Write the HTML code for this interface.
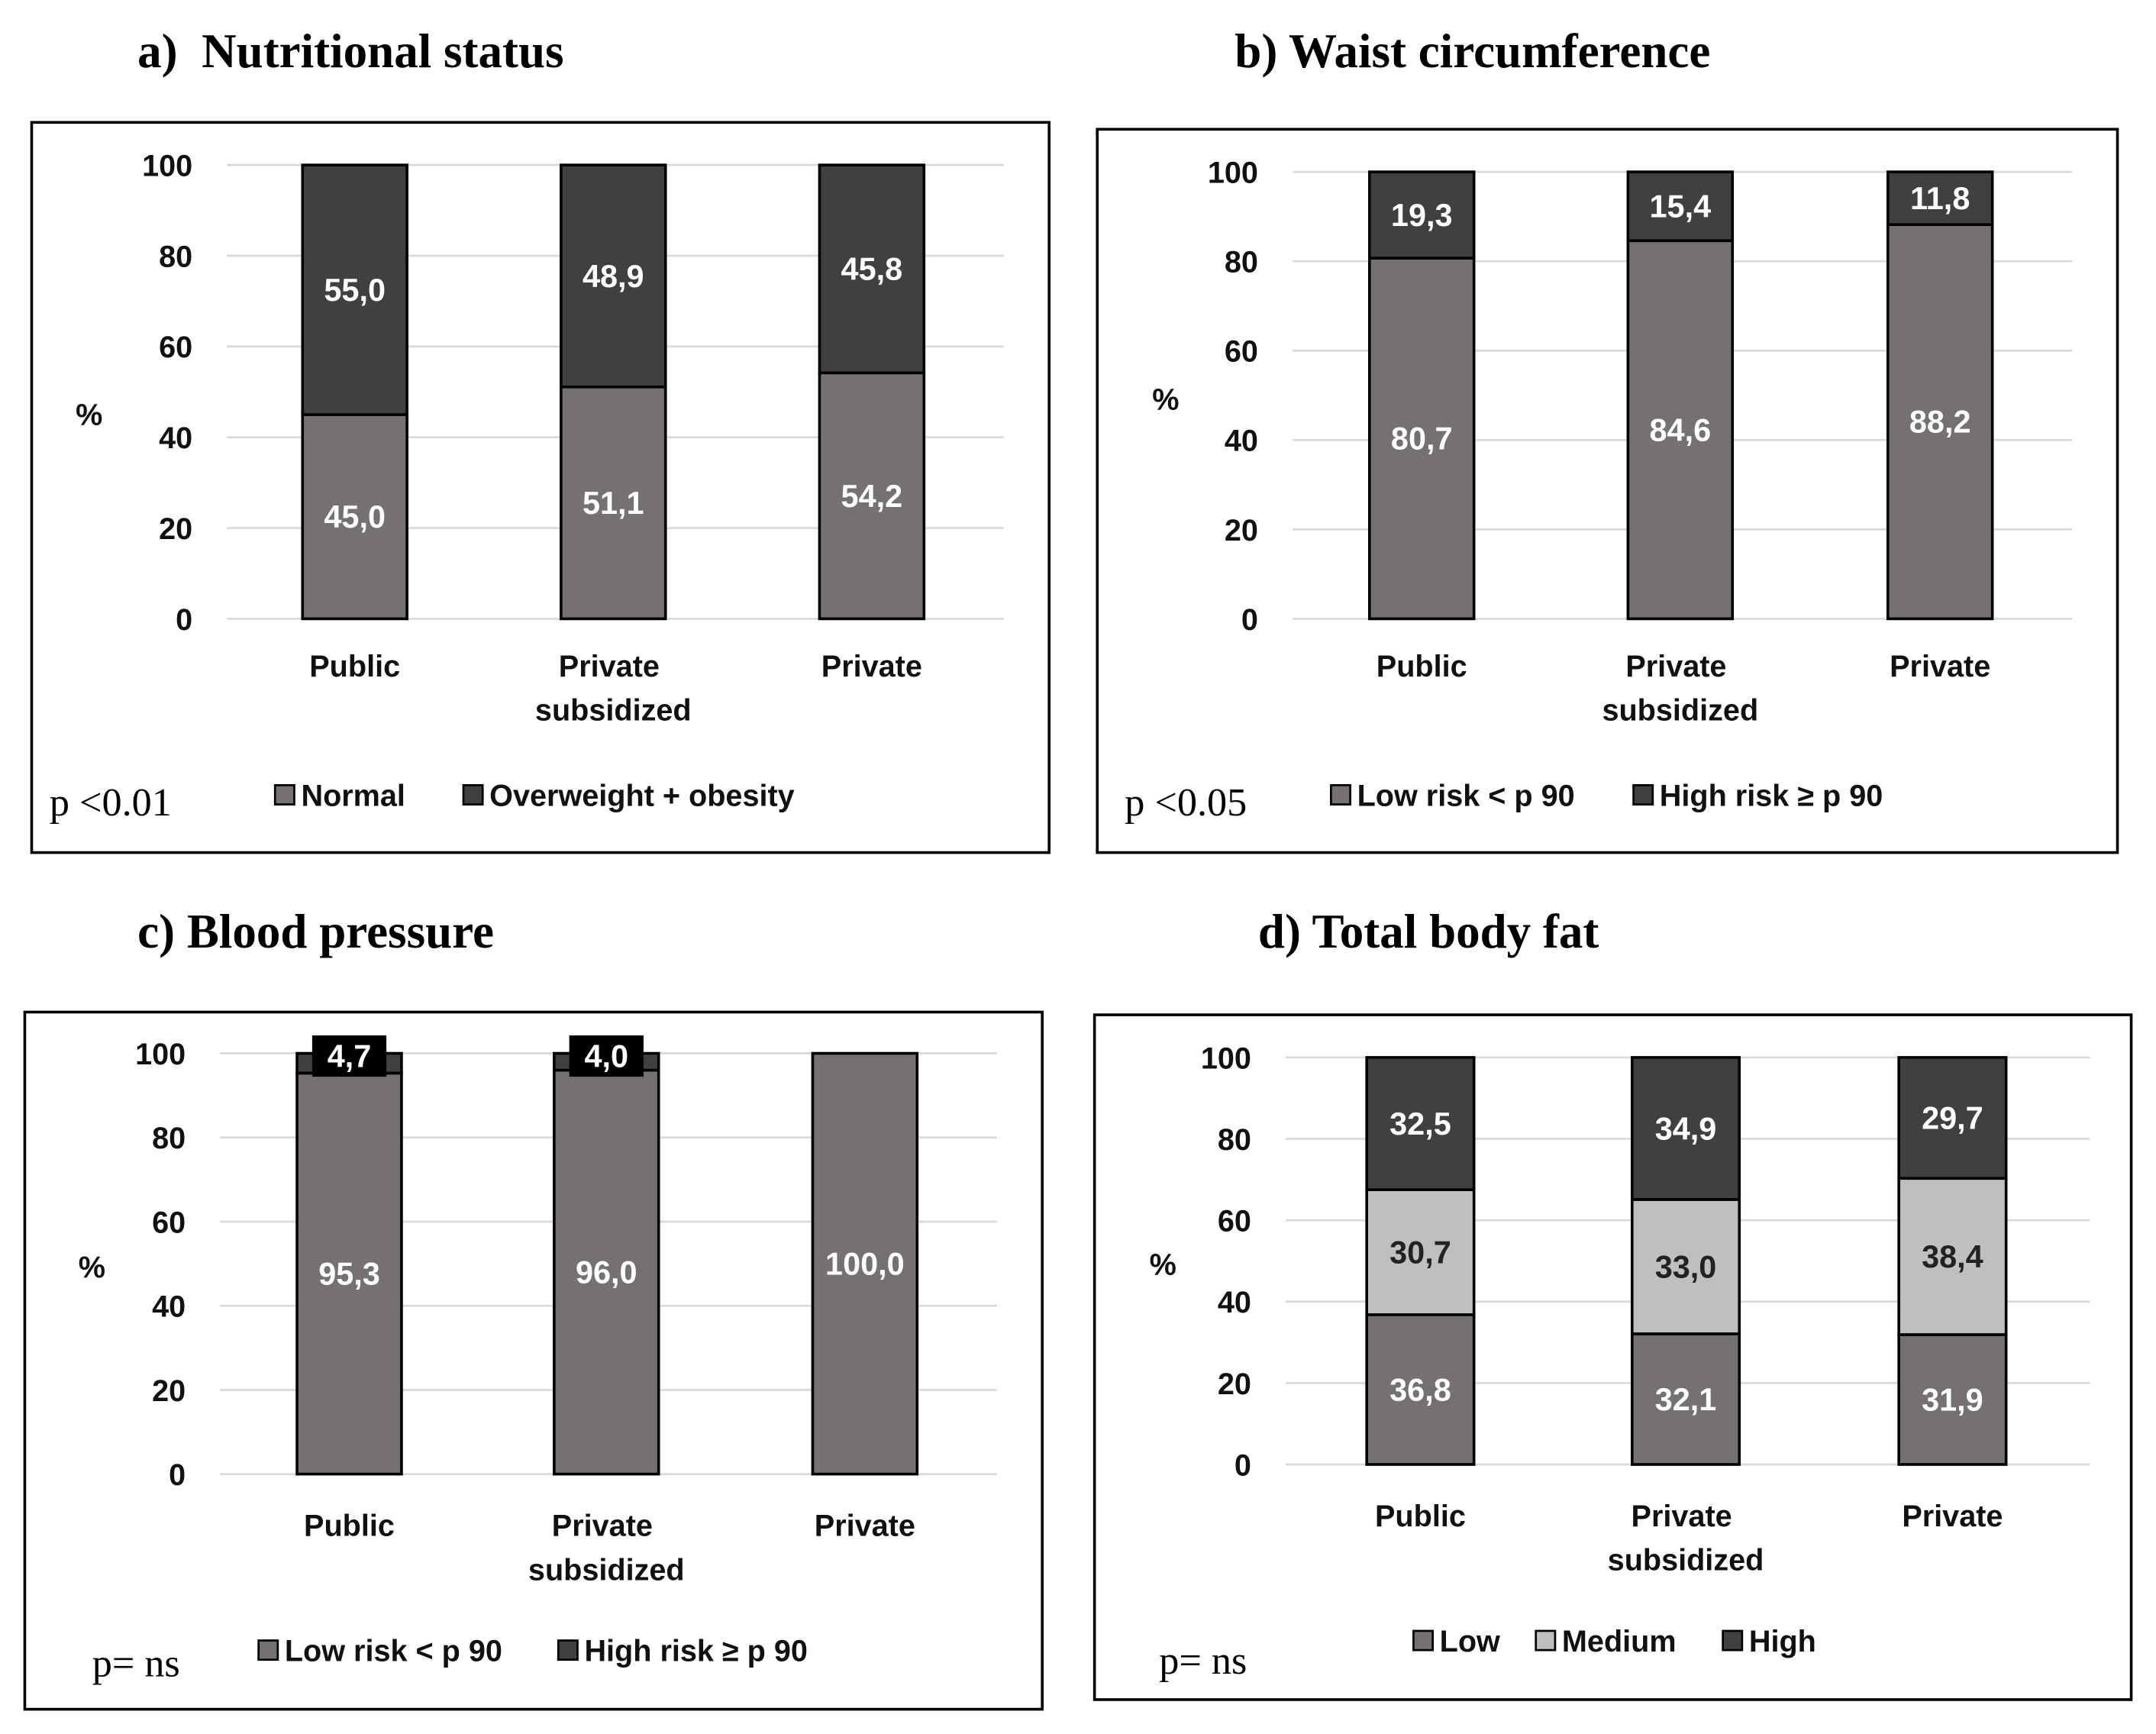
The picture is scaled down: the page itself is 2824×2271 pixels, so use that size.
<!DOCTYPE html>
<html><head><meta charset="utf-8"><style>
html,body{margin:0;padding:0;background:#fff}
svg{display:block}
.t{font-family:"Liberation Serif",serif;font-weight:bold;font-size:35px;fill:#000}
.s{font-family:"Liberation Sans",sans-serif;font-size:22px;font-weight:bold;fill:#111}
.v{font-family:"Liberation Sans",sans-serif;font-size:23px;fill:#fff;font-weight:bold}
.p{font-family:"Liberation Serif",serif;font-size:29px;fill:#000}
</style></head><body>
<svg id="c" width="2824" height="2271" viewBox="0 0 1568 1261">
<text class="t" x="100" y="49" xml:space="preserve">a)  Nutritional status</text>
<text class="t" x="898" y="49">b) Waist circumference</text>
<text class="t" x="100" y="689">c) Blood pressure</text>
<text class="t" x="915" y="689">d) Total body fat</text>
</svg>
<script>
const categories = ["Public", "Private subsidized", "Private"];
const ticks = [0, 20, 40, 60, 80, 100];
const aNormal = [45.0, 51.1, 54.2];
const aOver = [55.0, 48.9, 45.8];
const bLow = [80.7, 84.6, 88.2];
const bHigh = [19.3, 15.4, 11.8];
const cLow = [95.3, 96.0, 100.0];
const cHigh = [4.7, 4.0, 0];
const dLow = [36.8, 32.1, 31.9];
const dMed = [30.7, 33.0, 38.4];
const dHigh = [32.5, 34.9, 29.7];
const legA = ["Normal", "Overweight + obesity"];
const legB = ["Low risk < p 90", "High risk ≥ p 90"];
const legD = ["Low", "Medium", "High"];

const NS = "http://www.w3.org/2000/svg";
const svg = document.getElementById("c");
function mk(tag, at, txt){const e=document.createElementNS(NS,tag);for(const k in at)e.setAttribute(k,at[k]);if(txt!==undefined)e.textContent=txt;svg.appendChild(e);return e;}
const COL = {low:"#757171", med:"#bfbfbf", high:"#404040"};

function panel(cfg){
  const b=mk("rect",{x:cfg.box[0],y:cfg.box[1],width:cfg.box[2]-cfg.box[0],height:cfg.box[3]-cfg.box[1],fill:"none",stroke:"#000","stroke-width":2});
  
  
  const y=v=>cfg.y0-(cfg.y0-cfg.y100)*v/100;
  ticks.forEach(t=>{
    const l=mk("line",{x1:cfg.gx[0],x2:cfg.gx[1],y1:y(t),y2:y(t),stroke:"#d9d9d9","stroke-width":1.5});
    
    
    const tx=mk("text",{class:"s",x:cfg.gx[0]-25,y:y(t)+8,"text-anchor":"end"},String(t));
    
    
  });
  const pc=mk("text",{class:"s",x:cfg.pct[0],y:cfg.pct[1],"font-size":"24"},"%");
  
  
  const w=cfg.bw;
  categories.forEach((c,i)=>{
    const cx=cfg.cx[i]; let acc=0;
    cfg.series.forEach((s,si)=>{
      const v=s.data[i]; if(v<=0) return;
      const r=mk("rect",{x:cx-w/2,y:y(acc+v),width:w,height:y(acc)-y(acc+v),fill:s.color,stroke:"#000","stroke-width":2});
      
      
      const lab=v.toFixed(1).replace(".",",");
      const my=(y(acc)+y(acc+v))/2+8;
      if(s.boxed){
        const bg=mk("rect",{x:cx-27,y:y(100)-13,width:54,height:30,fill:"#000"});
        
        
        const t=mk("text",{class:"v",x:cx,y:y(100)+10,"text-anchor":"middle"},lab);
        
        
      } else {
        const t=mk("text",{class:"v",x:cx,y:my,"text-anchor":"middle"},lab);
        if(s.textColor) t.style.fill=s.textColor;
        
        
      }
      acc+=v;
    });
    const parts=c==="Private subsidized"?["Private","subsidized"]:[c];
    parts.forEach((p,pi)=>{
      const t=mk("text",{class:"s",x:cx-(pi===0&&parts.length>1?3:0),y:cfg.ly+8+pi*32,"text-anchor":"middle"},p);
      
      
    });
  });
  cfg.legend.forEach((lg,li)=>{
    const r=mk("rect",{x:lg.x,y:cfg.legY-7,width:14,height:14,fill:lg.color,stroke:"#000","stroke-width":1.5});
    
    
    const t=mk("text",{class:"s",x:lg.x+19,y:cfg.legY+8},lg.text);
    
    
  });
  const p=mk("text",{class:"p",x:cfg.p[0],y:cfg.p[1]},cfg.pText);
  
  
}

panel({id:"a",box:[23,89,763,620],y0:450,y100:120,gx:[165,730],cx:[258,446,634],bw:76,pct:[55,309],ly:484,legY:578,p:[36,593],pText:"p <0.01",
  series:[{key:"normal",data:aNormal,color:COL.low},{key:"overweight",data:aOver,color:COL.high}],
  legend:[{x:200,color:COL.low,text:legA[0]},{x:337,color:COL.high,text:legA[1]}]});
panel({id:"b",box:[798,94,1540,620],y0:450,y100:125,gx:[940,1507],cx:[1034,1222,1411],bw:76,pct:[838,298],ly:484,legY:578,p:[818,593],pText:"p <0.05",
  series:[{key:"low",data:bLow,color:COL.low},{key:"high",data:bHigh,color:COL.high}],
  legend:[{x:968,color:COL.low,text:legB[0]},{x:1188,color:COL.high,text:legB[1]}]});
panel({id:"c",box:[18,736,758,1243],y0:1072,y100:766,gx:[160,725],cx:[254,441,629],bw:76,pct:[57,929],ly:1109,legY:1200,p:[67,1219],pText:"p= ns",
  series:[{key:"low",data:cLow,color:COL.low},{key:"high",data:cHigh,color:COL.high,boxed:true}],
  legend:[{x:188,color:COL.low,text:legB[0]},{x:406,color:COL.high,text:legB[1]}]});
panel({id:"d",box:[796,738,1550,1236],y0:1065,y100:769,gx:[935,1520],cx:[1033,1226,1420],bw:78,pct:[836,927],ly:1102,legY:1193,p:[843,1217],pText:"p= ns",
  series:[{key:"low",data:dLow,color:COL.low},{key:"medium",data:dMed,color:COL.med,textColor:"#222"},{key:"high",data:dHigh,color:COL.high}],
  legend:[{x:1028,color:COL.low,text:legD[0]},{x:1117,color:COL.med,text:legD[1]},{x:1253,color:COL.high,text:legD[2]}]});
</script>
</body></html>
